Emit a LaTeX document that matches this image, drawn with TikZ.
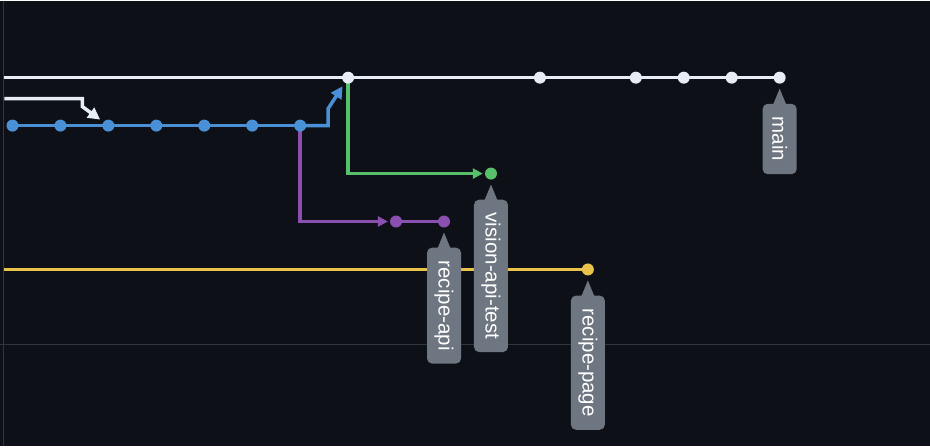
\documentclass[tikz,border=0pt]{standalone}
\usepackage{fontspec}
\setmainfont{Liberation Sans}
\usetikzlibrary{arrows.meta,calc}
\definecolor{bg}{HTML}{0D1117}
\definecolor{gridc}{HTML}{30363D}
\definecolor{cwhite}{HTML}{E6EDF3}
\definecolor{cblue}{HTML}{4A90D6}
\definecolor{cgreen}{HTML}{57C06B}
\definecolor{cpurple}{HTML}{8B4FB0}
\definecolor{cyellow}{HTML}{E8C24A}
\definecolor{tagc}{HTML}{6E7681}
\pgfdeclarelayer{canvas}
\pgfdeclarelayer{background}
\pgfsetlayers{canvas,background,main}
\tikzset{
  dot/.style={circle,inner sep=0pt,minimum size=12pt,fill=#1},
  branch/.style={draw=#1,line width=3.5pt},
  tip/.style={-{Triangle[length=10pt,width=10pt]}},
  mergetip/.style={-{Triangle[length=12pt,width=12pt]},shorten >=4pt},
  tag/.style={fill=tagc,text=white,rounded corners=5pt,rotate=-90,anchor=west,
    minimum height=34pt,inner xsep=13pt,inner ysep=0pt,font=\fontsize{20.5}{20.5}\selectfont},
}
\begin{document}
\begin{tikzpicture}[x=1pt,y=-1pt]
\begin{pgfonlayer}{canvas}
\fill[bg] (0,0) rectangle (930,446);
\draw[gridc,line width=1.5pt] (3,0) -- (3,446);
\draw[gridc,line width=1pt] (0,344) -- (930,344);
\end{pgfonlayer}
\useasboundingbox (0,0) rectangle (930,446);
% commits
\node[dot=cwhite] (m1) at (348,77) {};
\node[dot=cwhite] (m2) at (540,77) {};
\node[dot=cwhite] (m3) at (636,77) {};
\node[dot=cwhite] (m4) at (684,77) {};
\node[dot=cwhite] (m5) at (732,77) {};
\node[dot=cwhite] (m6) at (780,77) {};
\node[dot=cblue] (b1) at (12,125) {};
\node[dot=cblue] (b2) at (60,125) {};
\node[dot=cblue] (b3) at (108,125) {};
\node[dot=cblue] (b4) at (156,125) {};
\node[dot=cblue] (b5) at (204,125) {};
\node[dot=cblue] (b6) at (252,125) {};
\node[dot=cblue] (b7) at (300,125) {};
\node[dot=cgreen] (g1) at (491,173) {};
\node[dot=cpurple] (p1) at (396,221) {};
\node[dot=cpurple] (p2) at (444,221) {};
\node[dot=cyellow] (y1) at (588,269) {};
\coordinate (wl) at (4,77);
\coordinate (wl2) at (4,98);
\coordinate (yl) at (4,269);
\coordinate (wbend) at (82,106);
\coordinate (bbend) at (328,108);
\begin{pgfonlayer}{background}
\draw[branch=cwhite] (wl) -- (m1.center) -- (m2.center) -- (m3.center) -- (m4.center) -- (m5.center) -- (m6.center);
\draw[branch=cwhite,mergetip] (wl2) -| (wbend) -- (b3);
\draw[branch=cblue] (b1.center) -- (b2.center) -- (b3.center) -- (b4.center) -- (b5.center) -- (b6.center) -- (b7.center);
\draw[branch=cblue,mergetip] (b7.center) -| (bbend) -- (m1);
\draw[branch=cgreen,tip,shorten >=2pt] (m1.center) |- (g1);
\draw[branch=cpurple,tip,shorten >=2pt] (b7.center) |- (p1);
\draw[branch=cpurple] (p1.center) -- (p2.center);
\draw[branch=cyellow] (yl) -- (y1.center);
\end{pgfonlayer}
% tags
\foreach \d/\n/\t in {m6/tmain/main, g1/tvis/vision-api-test, p2/tapi/recipe-api, y1/tpage/recipe-page}{
  \fill[tagc] ($(\d)+(0,11)$) -- ($(\d)+(7,28)$) -- ($(\d)+(-7,28)$) -- cycle;
  \node[tag] (\n) at ($(\d)+(0,26)$) {\t};
}
\end{tikzpicture}
\end{document}
